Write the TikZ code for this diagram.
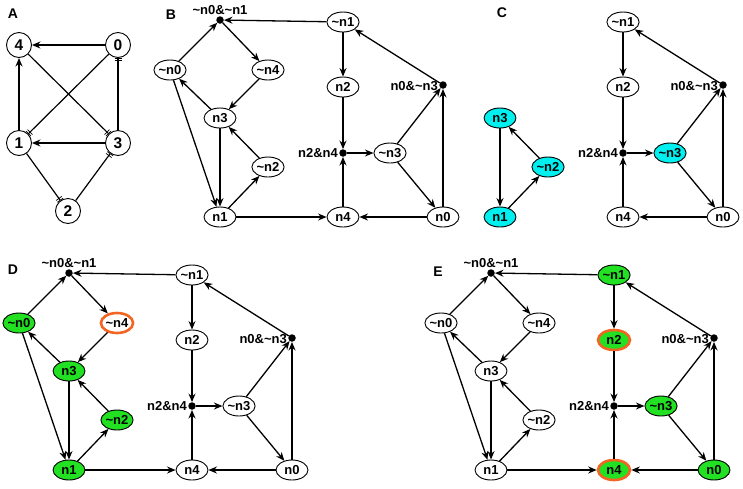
\documentclass[tikz,border=0pt]{standalone}
\usepackage{fontspec}
\setmainfont{Liberation Sans}
\usetikzlibrary{arrows.meta,shapes.geometric}

\definecolor{ongreen}{HTML}{22E022}
\definecolor{oncyan}{HTML}{00F0F0}
\definecolor{pinorange}{HTML}{F26522}

\tikzset{
  gene/.style={ellipse,draw,line width=0.9pt,fill=white,inner sep=0pt,
    minimum width=32pt,minimum height=20pt,font=\bfseries\fontsize{13}{13}\selectfont},
  var/.style={circle,draw,line width=0.9pt,inner sep=0pt,minimum size=25pt,
    font=\bfseries\fontsize{15.5}{15.5}\selectfont},
  junc/.style={circle,fill,inner sep=0pt,minimum size=7.5pt,label distance=3pt},
  dotlbl/.style={font=\bfseries\fontsize{13}{13}\selectfont,inner sep=1pt},
  act/.style={line width=1.3pt,-{Stealth[length=8.5pt,width=7pt]}},
  inh/.style={line width=1.2pt,-{Bar[width=7pt,line width=0.7pt,sep=1.5pt]Bar[width=7pt,line width=0.7pt]}},
  panel/.style={font=\bfseries\fontsize{14}{14}\selectfont},
  on/.style={fill=ongreen},
  cy/.style={fill=oncyan},
  pin/.style={draw=pinorange,line width=2.6pt},
  look n0/.style={}, look n1/.style={}, look n2/.style={},
  look n3/.style={}, look n4/.style={},
  look nn0/.style={}, look nn1/.style={}, look nn2/.style={},
  look nn3/.style={}, look nn4/.style={}
}

% n3, ~n2, n1 loop
\newcommand{\triad}{%
  \node[gene,look n3] (n3) at (220,118) {n3};
  \node[gene,look nn2] (nn2) at (268,167) {\textasciitilde n2};
  \node[gene,look n1] (n1) at (220,217) {n1};
  \draw[act] (n3) -- (n1);
  \draw[act] (n1) -- (nn2);
  \draw[act] (nn2) -- (n3);
}

% right half
\newcommand{\rightpart}{%
  \node[gene,look nn1] (nn1) at (343,22) {\textasciitilde n1};
  \node[gene,look n2] (n2) at (343,87) {n2};
  \node[junc,label={[dotlbl,yshift=-1.5pt]left:n0\&\textasciitilde n3}] (n0nn3) at (443,85) {};
  \node[junc,label={[dotlbl]left:n2\&n4}] (n2n4) at (343,153) {};
  \node[gene,look nn3] (nn3) at (390,153) {\textasciitilde n3};
  \node[gene,look n4] (n4) at (343,217) {n4};
  \node[gene,look n0] (n0) at (443,217) {n0};
  \draw[act] (nn1) -- (n2);
  \draw[act] (n2) -- (n2n4);
  \draw[act] (n4) -- (n2n4);
  \draw[act] (n2n4) -- (nn3);
  \draw[act] (nn3) -- (n0nn3);
  \draw[act] (nn3) -- (n0);
  \draw[act] (n0) -- (n0nn3);
  \draw[act] (n0nn3) -- (nn1);
  \draw[act] (n0) -- (n4);
}

% rest of the left half
\newcommand{\leftrest}{%
  \node[junc,label={[dotlbl]above:\textasciitilde n0\&\textasciitilde n1}] (nn0nn1) at (220,20) {};
  \node[gene,look nn0] (nn0) at (170,70) {\textasciitilde n0};
  \node[gene,look nn4] (nn4) at (268,70) {\textasciitilde n4};
  \draw[act] (nn1) -- (nn0nn1);
  \draw[act] (nn0) -- (nn0nn1);
  \draw[act] (nn0nn1) -- (nn4);
  \draw[act] (nn4) -- (n3);
  \draw[act] (n3) -- (nn0);
  \draw[act] (nn0) -- (n1);
  \draw[act] (n1) -- (n4);
}

\begin{document}
\begin{tikzpicture}[x=1pt,y=-1pt]
  \useasboundingbox (0,0) rectangle (743,488);
  % A
  \node[panel] (lblA) at (13,14) {A};
  \node[var] (v4) at (19,45) {4};
  \node[var] (v0) at (118,45) {0};
  \node[var] (v1) at (19,143) {1};
  \node[var] (v3) at (118,143) {3};
  \node[var] (v2) at (68,211) {2};
  \draw[act] (v0) -- (v4);
  \draw[act] (v1) -- (v4);
  \draw[act] (v3) -- (v1);
  \draw[inh] (v4) -- (v3);
  \draw[inh] (v0) -- (v1);
  \draw[inh] (v3) -- (v0);
  \draw[inh] (v1) -- (v2);
  \draw[inh] (v2) -- (v3);
  % B
  \node[panel] (lblB) at (171,15) {B};
  \begin{scope}[name prefix=b-]
    \triad \rightpart \leftrest
  \end{scope}
  % C
  \node[panel] (lblC) at (502,13) {C};
  \begin{scope}[name prefix=c-,shift={(280,0)},
      look n3/.style={cy},look nn2/.style={cy},look n1/.style={cy},look nn3/.style={cy}]
    \triad \rightpart
  \end{scope}
  % D
  \node[panel] (lblD) at (13,270) {D};
  \begin{scope}[name prefix=d-,shift={(-151,253)},
      look nn0/.style={on},look n3/.style={on},look nn2/.style={on},look n1/.style={on},
      look nn4/.style={pin}]
    \triad \rightpart \leftrest
  \end{scope}
  % E
  \node[panel] (lblE) at (438,272) {E};
  \begin{scope}[name prefix=e-,shift={(271,253)},
      look nn1/.style={on},look nn3/.style={on},look n0/.style={on},
      look n2/.style={on,pin},look n4/.style={on,pin}]
    \triad \rightpart \leftrest
  \end{scope}
\end{tikzpicture}
\end{document}
